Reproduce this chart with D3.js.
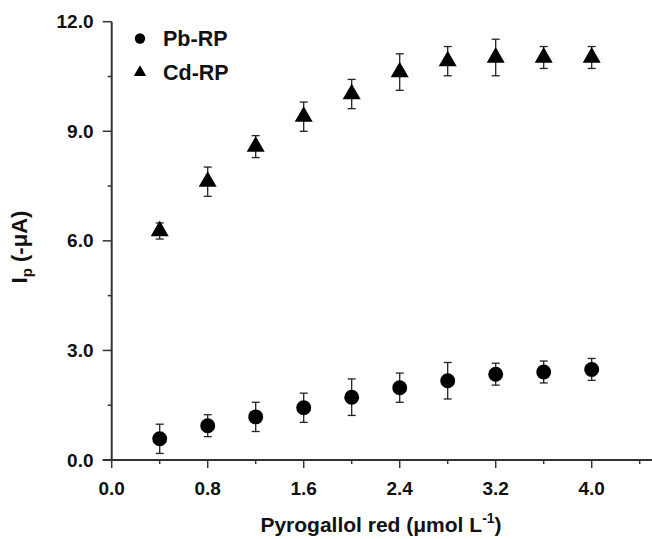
<!DOCTYPE html>
<html lang="en">
<head>
    <meta charset="UTF-8">
    <title>Ip vs pyrogallol red</title>
    <script src="https://d3js.org/d3.v7.min.js"></script>
    <style>
        body { margin: 0; background: #fff; }
        svg text { font-family: "Liberation Sans", Arial, sans-serif; font-weight: bold; fill: #111; }
    </style>
</head>
<body>
    <script>
        // data
        const concentration = [0.4, 0.8, 1.2, 1.6, 2.0, 2.4, 2.8, 3.2, 3.6, 4.0];
        const pbMean = [0.58, 0.94, 1.18, 1.43, 1.72, 1.98, 2.17, 2.35, 2.41, 2.48];
        const pbErr  = [0.40, 0.30, 0.40, 0.40, 0.50, 0.40, 0.50, 0.30, 0.30, 0.30];
        const cdMean = [6.27, 7.62, 8.58, 9.40, 10.02, 10.62, 10.92, 11.02, 11.02, 11.02];
        const cdErr  = [0.22, 0.40, 0.30, 0.40, 0.40, 0.50, 0.40, 0.50, 0.30, 0.30];
        const xTicks = [0.0, 0.8, 1.6, 2.4, 3.2, 4.0];
        const xMinor = [0.4, 1.2, 2.0, 2.8, 3.6, 4.4];
        const yTicks = [0.0, 3.0, 6.0, 9.0, 12.0];
        const yMinor = [1.5, 4.5, 7.5, 10.5];

        const w = 652;
        const h = 539;
        const axisColor = "#333";

        const svg = d3.select("body").append("svg")
            .attr("width", w)
            .attr("height", h);

        const x = d3.scaleLinear().domain([0, 4.5]).range([111.7, 651.7]);
        const y = d3.scaleLinear().domain([0, 12]).range([460, 21.7]);

        //axes
        const xAxis = svg.append("g").attr("transform", "translate(0,460)");
        xAxis.append("line")
            .attr("x1", x(0) - 9).attr("x2", w)
            .attr("stroke", axisColor).attr("stroke-width", 2);
        xAxis.selectAll(".major").data(xTicks).enter().append("line")
            .attr("x1", d => x(d)).attr("x2", d => x(d))
            .attr("y1", 0).attr("y2", 8)
            .attr("stroke", axisColor).attr("stroke-width", 1.5);
        xAxis.selectAll(".minor").data(xMinor).enter().append("line")
            .attr("x1", d => x(d)).attr("x2", d => x(d))
            .attr("y1", 0).attr("y2", 4)
            .attr("stroke", axisColor).attr("stroke-width", 1.5);
        xAxis.selectAll("text").data(xTicks).enter().append("text")
            .attr("x", d => x(d))
            .attr("y", 35)
            .attr("text-anchor", "middle")
            .attr("font-size", 19)
            .text(d => d3.format(".1f")(d));

        const yAxis = svg.append("g");
        yAxis.append("line")
            .attr("x1", x(0)).attr("x2", x(0))
            .attr("y1", y(12)).attr("y2", y(0))
            .attr("stroke", axisColor).attr("stroke-width", 2);
        yAxis.selectAll(".major").data(yTicks).enter().append("line")
            .attr("x1", x(0) - 9).attr("x2", x(0))
            .attr("y1", d => y(d)).attr("y2", d => y(d))
            .attr("stroke", axisColor).attr("stroke-width", 1.5);
        yAxis.selectAll(".minor").data(yMinor).enter().append("line")
            .attr("x1", x(0) - 4).attr("x2", x(0))
            .attr("y1", d => y(d)).attr("y2", d => y(d))
            .attr("stroke", axisColor).attr("stroke-width", 1.5);
        yAxis.selectAll("text").data(yTicks).enter().append("text")
            .attr("x", 93.5)
            .attr("y", d => y(d) + 6.5)
            .attr("text-anchor", "end")
            .attr("font-size", 19)
            .text(d => d3.format(".1f")(d));

        //axis titles
        const xTitle = svg.append("text")
            .attr("x", 381)
            .attr("y", 532)
            .attr("text-anchor", "middle")
            .attr("font-size", 21);
        xTitle.append("tspan").text("Pyrogallol red (\u03bcmol L");
        xTitle.append("tspan").attr("dy", -9).attr("font-size", 14).text("-1");
        xTitle.append("tspan").attr("dy", 9).text(")");

        const yTitle = svg.append("text")
            .attr("transform", "translate(27,247) rotate(-90)")
            .attr("text-anchor", "middle")
            .attr("font-size", 22);
        yTitle.append("tspan").text("I");
        yTitle.append("tspan").attr("dy", 5).attr("font-size", 15).text("p");
        yTitle.append("tspan").attr("dy", -5).text(" (-\u03bcA)");

        //series
        const series = [
            {name: "Pb-RP", mean: pbMean, err: pbErr, symbol: d3.symbolCircle, size: 175},
            {name: "Cd-RP", mean: cdMean, err: cdErr, symbol: d3.symbolTriangle, size: 140}
        ];

        series.forEach(s => {
            const pts = concentration.map((c, i) => ({c: c, m: s.mean[i], e: s.err[i]}));
            const g = svg.append("g");
            const bars = g.selectAll(".err").data(pts).enter().append("g")
                .attr("stroke", "#222").attr("stroke-width", 1.3);
            bars.append("line")
                .attr("x1", d => x(d.c)).attr("x2", d => x(d.c))
                .attr("y1", d => y(d.m + d.e)).attr("y2", d => y(d.m - d.e));
            bars.append("line")
                .attr("x1", d => x(d.c) - 4).attr("x2", d => x(d.c) + 4)
                .attr("y1", d => y(d.m + d.e)).attr("y2", d => y(d.m + d.e));
            bars.append("line")
                .attr("x1", d => x(d.c) - 4).attr("x2", d => x(d.c) + 4)
                .attr("y1", d => y(d.m - d.e)).attr("y2", d => y(d.m - d.e));
            g.selectAll(".pt").data(pts).enter().append("path")
                .attr("d", d3.symbol().type(s.symbol).size(s.size))
                .attr("transform", d => "translate(" + x(d.c) + "," + y(d.m) + ")")
                .attr("fill", "#000");
        });

        //legend
        const legend = svg.append("g");
        series.forEach((s, i) => {
            legend.append("path")
                .attr("d", d3.symbol().type(s.symbol).size(s.size * 0.48))
                .attr("transform", "translate(140," + (38.5 + i * 34) + ")")
                .attr("fill", "#000");
            legend.append("text")
                .attr("x", 163)
                .attr("y", 45.5 + i * 34.5)
                .attr("font-size", 21.5)
                .text(s.name);
        });
    </script>
</body>
</html>
